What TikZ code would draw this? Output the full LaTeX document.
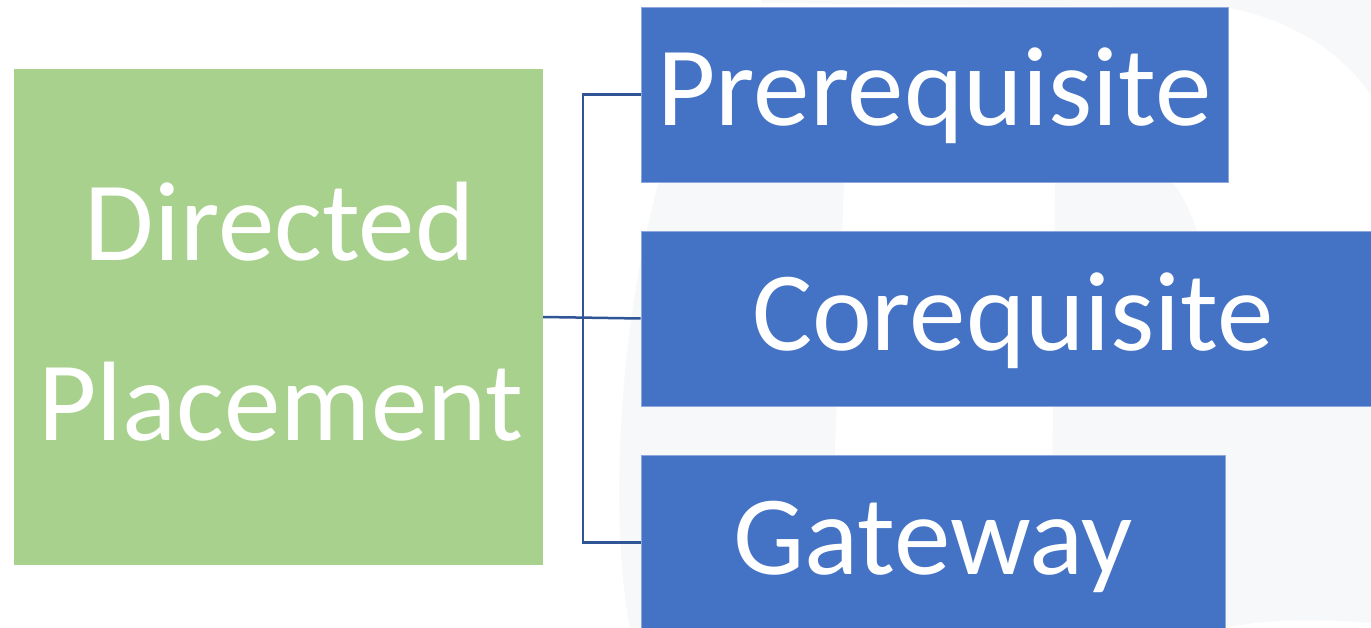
\documentclass[tikz,border=0pt]{standalone}
\usepackage{fontspec}
\setmainfont{Carlito}
\definecolor{gbox}{RGB}{169,209,142}
\definecolor{bbox}{RGB}{68,114,196}
\definecolor{bedge}{RGB}{140,168,220}
\definecolor{conncol}{RGB}{47,85,151}
\definecolor{wm}{RGB}{247,248,250}
\tikzset{
  greenbox/.style={rectangle, fill=gbox, inner sep=0pt},
  bluebox/.style={rectangle, fill=bbox, draw=bedge, line width=0.8pt, inner sep=0pt,
    minimum height=175pt, text=white, font=\fontsize{113}{136}\selectfont,
    text height=80pt, text depth=17pt},
  bigtxt/.style={text=white, font=\fontsize{113}{136}\selectfont, inner sep=0pt, anchor=base},
  conn/.style={draw=conncol, line width=2.5pt},
  wmark/.style={fill=wm, draw=none}
}
\begin{document}
\begin{tikzpicture}[x=1pt,y=-1pt]
\useasboundingbox (0,0) rectangle (1371,628);
\fill[white] (0,0) rectangle (1371,628);
% faint background watermark
\path[wmark] (630,628) .. controls (612,540) and (612,330) .. (668,150) -- (845,150) -- (829,628) -- cycle;
\path[wmark] (1051,628) -- (1055,170) .. controls (1100,130) and (1170,140) .. (1198,235)
  .. controls (1230,330) and (1300,400) .. (1371,400) -- (1371,623)
  .. controls (1310,618) and (1260,620) .. (1225,628) -- cycle;
\path[wmark] (761,0) -- (761,3) -- (1230,8) .. controls (1290,20) and (1340,50) .. (1371,95) -- (1371,0) -- cycle;
% boxes
\node[greenbox, minimum width=529pt, minimum height=496pt] (dp) at (278.5,317) {};
\node[bigtxt] (dpa) at (279.5,261) {Directed};
\node[bigtxt] (dpb) at (281,440) {Placement};
\node[bluebox, minimum width=587pt] (pre) at (934.5,94.5) {Prerequisite};
\node[bluebox, minimum width=744pt] (co) at (1013,318.5) {Corequisite};
\node[bluebox, minimum width=584pt] (gw) at (933,542.5) {Gateway};
% connectors
\coordinate (jx) at (583,318.5);
\draw[conn] (dp.east) -- (co.west);
\draw[conn] (pre.west) -| (jx |- gw.west) -- (gw.west);
\end{tikzpicture}
\end{document}
